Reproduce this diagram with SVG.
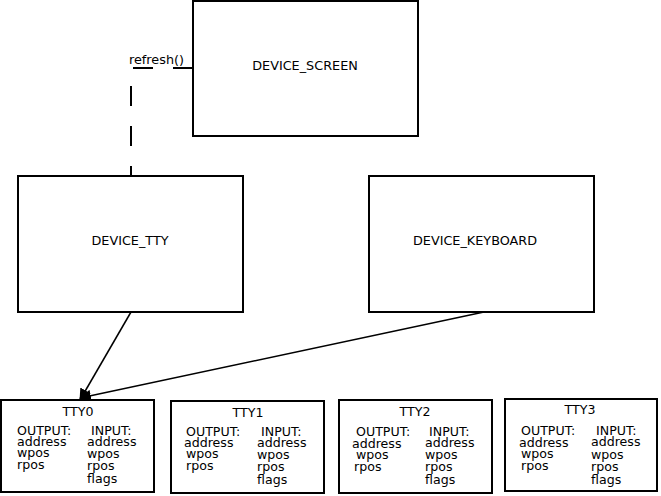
<svg xmlns="http://www.w3.org/2000/svg" width="661" height="496" viewBox="0 0 661 496">
<style>
rect{fill:#fff;stroke:#000;stroke-width:2}
text{font-family:"DejaVu Sans",sans-serif;font-size:12.8px;fill:#000}
.s{font-size:12.6px}
.c{text-anchor:middle}
.l{stroke:#000;stroke-width:1.5;fill:none}
</style>
<defs>
<marker id="ah" markerWidth="12" markerHeight="12" refX="11" refY="6" orient="auto" markerUnits="userSpaceOnUse"><path d="M0,0 L12,6 L0,12 z" fill="#000"/></marker>
</defs>
<rect width="661" height="496" style="stroke:none"/>
<g id="connectors">
<path class="l" d="M193,68 H131 V176" stroke-dasharray="20,20" style="stroke-width:2"/>
<text x="129" y="64">refresh()</text>
<line class="l" x1="131" y1="312" x2="80" y2="400" marker-end="url(#ah)"/>
<line class="l" x1="484" y1="312" x2="80" y2="398" marker-end="url(#ah)"/>
</g>
<g id="device_screen"><rect x="193" y="1" width="225" height="135"/><text class="c" x="305" y="70">DEVICE_SCREEN</text></g>
<g id="device_tty"><rect x="18" y="176" width="225" height="136"/><text class="c" x="130" y="245">DEVICE_TTY</text></g>
<g id="device_keyboard"><rect x="369" y="176" width="225" height="136"/><text class="c" x="475" y="245">DEVICE_KEYBOARD</text></g>
<g id="tty0" class="tty"><rect x="1" y="400" width="153" height="92"/>
<text class="c s" x="78" y="416">TTY0</text>
<text class="s" x="17" y="435">OUTPUT:</text><text class="s" x="17" y="446">address</text><text class="s" x="17" y="457">wpos</text><text class="s" x="17" y="469">rpos</text>
<text class="s" x="91" y="435">INPUT:</text><text class="s" x="87" y="446">address</text><text class="s" x="87" y="458">wpos</text><text class="s" x="87" y="470">rpos</text><text class="s" x="87" y="483">flags</text>
</g>
<g id="tty1"><rect x="171" y="401" width="153" height="92"/>
<text class="c s" x="248" y="417">TTY1</text>
<text class="s" x="186" y="436">OUTPUT:</text><text class="s" x="184" y="447">address</text><text class="s" x="186" y="458">wpos</text><text class="s" x="186" y="470">rpos</text>
<text class="s" x="261" y="436">INPUT:</text><text class="s" x="257" y="447">address</text><text class="s" x="257" y="459">wpos</text><text class="s" x="257" y="471">rpos</text><text class="s" x="257" y="484">flags</text>
</g>
<g id="tty2"><rect x="339" y="400" width="153" height="93"/>
<text class="c s" x="415" y="416">TTY2</text>
<text class="s" x="356" y="436">OUTPUT:</text><text class="s" x="352" y="448">address</text><text class="s" x="356" y="459">wpos</text><text class="s" x="354" y="471">rpos</text>
<text class="s" x="429" y="436">INPUT:</text><text class="s" x="425" y="447">address</text><text class="s" x="425" y="459">wpos</text><text class="s" x="425" y="471">rpos</text><text class="s" x="425" y="484">flags</text>
</g>
<g id="tty3"><rect x="505" y="399" width="152" height="92"/>
<text class="c s" x="580" y="414">TTY3</text>
<text class="s" x="521" y="435">OUTPUT:</text><text class="s" x="519" y="447">address</text><text class="s" x="521" y="458">wpos</text><text class="s" x="521" y="470">rpos</text>
<text class="s" x="596" y="435">INPUT:</text><text class="s" x="591" y="446">address</text><text class="s" x="591" y="459">wpos</text><text class="s" x="591" y="471">rpos</text><text class="s" x="591" y="484">flags</text>
</g>
</svg>
